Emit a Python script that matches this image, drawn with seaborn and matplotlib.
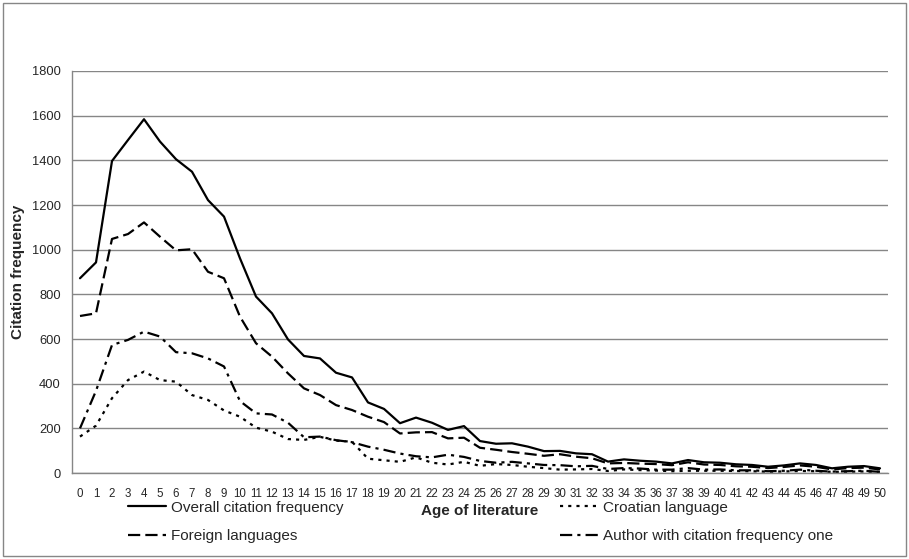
import pandas as pd
import seaborn as sns
import matplotlib.pyplot as plt
import numpy as np
from matplotlib.patches import Rectangle


ages = list(range(51))

overall  = [872, 943, 1397, 1491, 1584, 1484, 1405, 1349, 1222, 1148,
            961, 790, 715, 598, 524, 513, 449, 428, 316, 287,
            223, 248, 225, 193, 210, 143, 131, 133, 118, 98,
            99, 88, 84, 51, 61, 55, 51, 43, 58, 48,
            46, 39, 36, 28, 34, 43, 36, 21, 28, 31, 21]
foreign  = [703, 715, 1048, 1070, 1122, 1058, 997, 1002, 901, 872,
            700, 581, 521, 446, 379, 349, 304, 282, 252, 228,
            177, 182, 183, 155, 158, 113, 104, 94, 86, 77,
            84, 73, 66, 43, 45, 42, 40, 35, 48, 38,
            36, 30, 28, 22, 27, 34, 28, 16, 22, 24, 16]
croatian = [163, 212, 335, 416, 454, 416, 409, 349, 327, 280,
            252, 203, 185, 152, 148, 162, 145, 140, 64, 57,
            50, 70, 46, 38, 50, 32, 40, 36, 28, 22,
            15, 16, 18, 9, 16, 13, 11, 8, 10, 10,
            10, 9, 8, 6, 7, 9, 8, 5, 6, 7, 5]
author   = [200, 368, 573, 596, 633, 611, 541, 536, 513, 477,
            322, 267, 262, 225, 160, 163, 147, 138, 118, 104,
            87, 75, 70, 82, 72, 54, 46, 50, 43, 36,
            35, 30, 32, 18, 22, 20, 15, 15, 22, 15,
            16, 12, 12, 8, 10, 15, 10, 6, 8, 10, 5]

series_names = ["Overall citation frequency", "Foreign languages",
                "Croatian language", "Author with citation frequency one"]

df = pd.concat([
    pd.DataFrame({"age": ages, "freq": vals, "series": name})
    for name, vals in zip(series_names, [overall, foreign, croatian, author])
])

sns.set_style("white")
plt.rcParams['font.family'] = ['Liberation Sans', 'DejaVu Sans']

fig = plt.figure(figsize=(9.09, 5.59), dpi=100)
ax = fig.add_axes([72/909, 86/559, 816/909, 402/559])

dash_map = {series_names[0]: "",
            series_names[1]: (5.5, 2.3),
            series_names[2]: (1.4, 2.3),
            series_names[3]: (5.5, 2.3, 1.4, 2.3)}

sns.lineplot(data=df, x="age", y="freq", style="series", style_order=series_names,
             dashes=dash_map, color="black", linewidth=1.6, ax=ax)

ax.set_xlim(-0.5, 50.5)
ax.set_ylim(0, 1800)
ax.set_yticks(np.arange(0, 1801, 200))
ax.set_xticks(ages)
ax.set_xticks(np.arange(-0.5, 51, 1), minor=True)
ax.tick_params(axis='x', which='major', length=0, pad=11, labelsize=8.3)
ax.tick_params(axis='x', which='minor', length=5, color='#868686', direction='out')
ax.tick_params(axis='y', length=5, color='#868686', direction='out', labelsize=9.3, pad=3)
ax.yaxis.grid(True, color='#868686', linewidth=1)
ax.xaxis.grid(False)
for s in ['top', 'right']:
    ax.spines[s].set_visible(False)
for s in ['left', 'bottom']:
    ax.spines[s].set_color('#868686')
    ax.spines[s].set_linewidth(1)

ax.set_ylabel("Citation frequency", fontweight='bold', fontsize=11, labelpad=5)
ax.set_xlabel("Age of literature", fontweight='bold', fontsize=11, labelpad=3)

handles, labels = ax.get_legend_handles_labels()
ax.legend(handles, labels, ncol=2, loc='upper left', bbox_to_anchor=(114/909, 1 - 487/559),
          bbox_transform=fig.transFigure, frameon=False, fontsize=11,
          handlelength=2.5, handletextpad=0.3, columnspacing=14.2, labelspacing=0.95)

fig.patches.append(Rectangle((3/909, 3/559), 903/909, 553/559, transform=fig.transFigure,
                             fill=False, edgecolor='#868686', linewidth=1))

plt.savefig("out.png", dpi=100)
